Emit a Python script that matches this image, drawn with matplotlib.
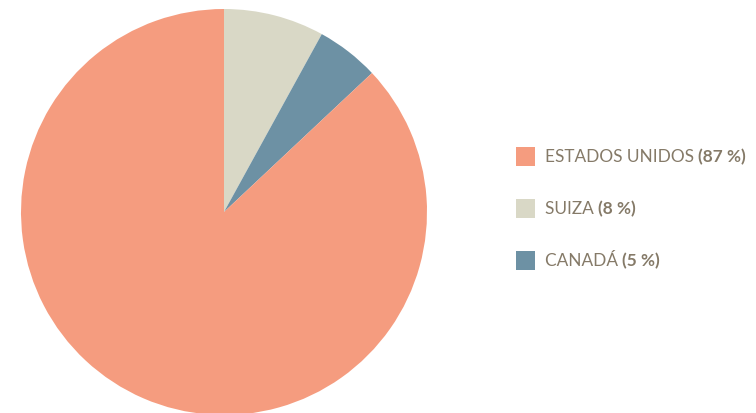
import matplotlib
matplotlib.use("Agg")
import matplotlib.pyplot as plt
from matplotlib.patches import Rectangle

# datos
paises = ["ESTADOS UNIDOS", "SUIZA", "CANADÁ"]
porcentajes = [87, 8, 5]
colores = ["#F59C7F", "#D9D8C6", "#6D91A4"]
etiquetas_pct = ["(87 %)", "(8 %)", "(5 %)"]

W, H = 756, 414
fig = plt.figure(figsize=(W / 100, H / 100), dpi=100)

# el pie, en orden horario desde arriba: Suiza, Canada, EEUU
cx, cy, r = 224, 213, 203
ax = fig.add_axes([(cx - r) / W, (H - cy - r) / H, 2 * r / W, 2 * r / H])
orden = [1, 2, 0]
ax.pie([porcentajes[i] for i in orden], colors=[colores[i] for i in orden],
       startangle=90, counterclock=False, radius=1,
       wedgeprops=dict(linewidth=0))
ax.set_xlim(-1, 1)
ax.set_ylim(-1, 1)
ax.set_aspect("equal")
ax.axis("off")

# leyenda hecha a mano
color_texto = "#857A68"
fuente = "Lato"
fig.canvas.draw()
renderer = fig.canvas.get_renderer()
y_filas = [157, 209, 261]
for i, y in enumerate(y_filas):
    fig.patches.append(Rectangle(((516) / W, (H - y - 9.5) / H), 19 / W, 19 / H,
                                 transform=fig.transFigure, facecolor=colores[i],
                                 edgecolor="none"))
    t = fig.text(545 / W, (H - y) / H, paises[i] + " ", color=color_texto,
                 fontsize=12.4, family=fuente, va="center", ha="left")
    bb = t.get_window_extent(renderer)
    fig.text(bb.x1 / W, (H - y) / H, etiquetas_pct[i], color=color_texto,
             fontsize=12.4, family=fuente, fontweight="bold", va="center", ha="left")

fig.savefig("out.png", dpi=100)
